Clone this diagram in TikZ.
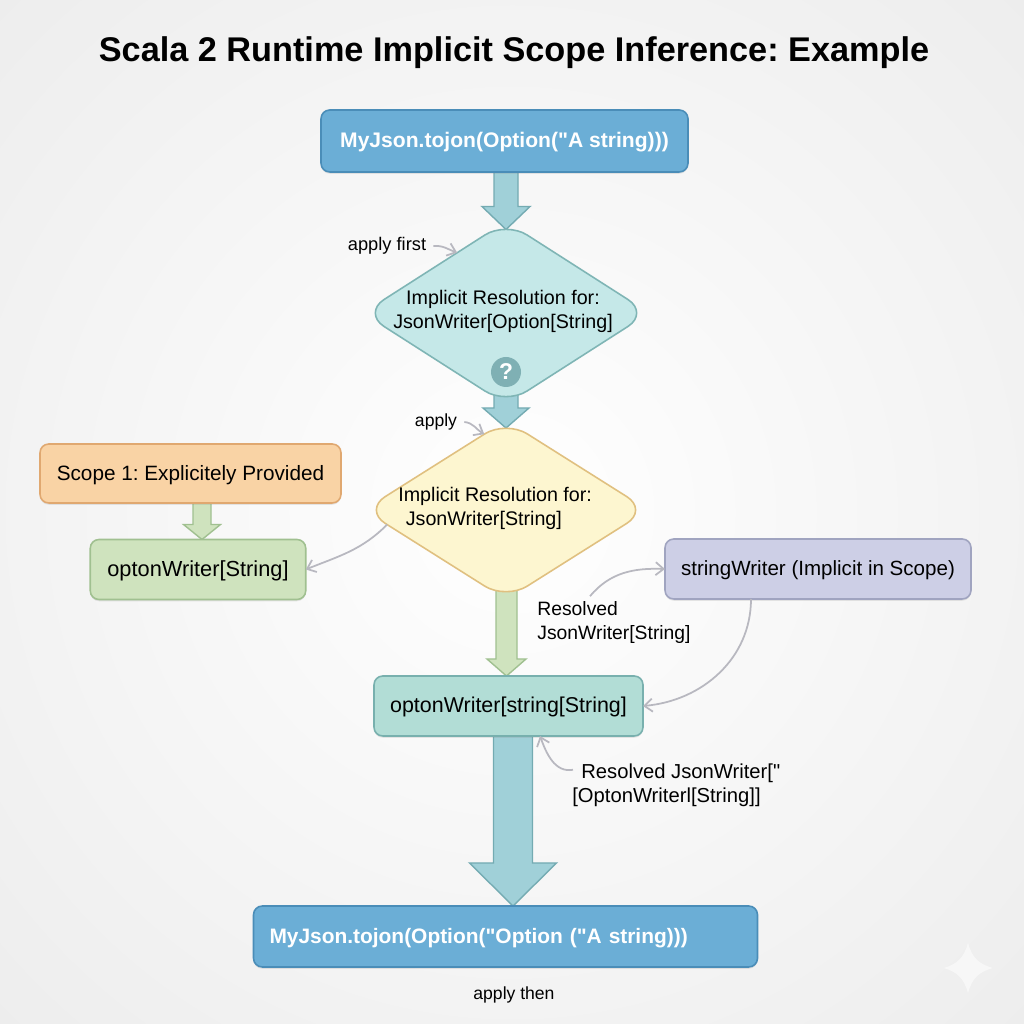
\documentclass[tikz,border=0pt]{standalone}
\usepackage{fontspec}
\setmainfont[Ligatures=TeXOff]{Liberation Sans}
\frenchspacing
\usetikzlibrary{arrows.meta,positioning,shapes.geometric,calc,shadows,backgrounds}
\definecolor{BlueFill}{HTML}{6BAED6}
\definecolor{BlueLine}{HTML}{4A8DB8}
\definecolor{TealFill}{HTML}{C5E8E8}
\definecolor{TealLine}{HTML}{7FB5B5}
\definecolor{FlowFill}{HTML}{A0D0D8}
\definecolor{FlowLine}{HTML}{74ABB2}
\definecolor{CreamFill}{HTML}{FDF6D0}
\definecolor{CreamLine}{HTML}{E0C080}
\definecolor{PeachFill}{HTML}{F9D3A5}
\definecolor{PeachLine}{HTML}{E0A870}
\definecolor{GreenFill}{HTML}{CFE3BE}
\definecolor{GreenLine}{HTML}{A0C090}
\definecolor{MintFill}{HTML}{B2DDD6}
\definecolor{MintLine}{HTML}{78B0AE}
\definecolor{LilacFill}{HTML}{CDCFE6}
\definecolor{LilacLine}{HTML}{A0A4C0}
\definecolor{NoteGray}{HTML}{B8B8C0}
\definecolor{BadgeTeal}{HTML}{7FB0B4}
\newcommand{\sized}[1]{\fontsize{#1}{13.6}\selectfont}
\tikzset{
  flow box/.style={rectangle,rounded corners=5pt,line width=0.9pt,outer sep=0pt,align=center,
    text height=10pt,text depth=2.4pt,
    drop shadow={shadow xshift=0pt,shadow yshift=-1pt,opacity=.18}},
  call box/.style={flow box,draw=BlueLine,fill=BlueFill,text=white,font=\sized{12}\bfseries},
  check node/.style={diamond,rounded corners=0.5cm,line width=0.9pt,outer sep=0pt,inner sep=0pt},
  note text/.style={inner sep=0pt,align=left},
  note arrow/.style={-{Straight Barb[length=1.6mm,width=2.6mm]},draw=NoteGray,line width=1pt},
  flow arrow/.style n args={3}{line width=0.8pt,to path={let \p1=(\tikztostart),\p2=(\tikztotarget) in
    (\x2-#1,\y1) -- (\x2-#1,\y2+#3) -- (\x2-#2,\y2+#3) -- (\x2,\y2) -- (\x2+#2,\y2+#3) -- (\x2+#1,\y2+#3) -- (\x2+#1,\y1) -- cycle}}
}
\begin{document}
\begin{tikzpicture}
  \useasboundingbox (0,0) rectangle (20.48,20.48);
  \begin{scope}[on background layer]
    \clip (0,0) rectangle (20.48,20.48);
    \shade[inner color=white,outer color=black!7] (-4.24,-4.24) rectangle (24.72,24.72);
  \end{scope}
  \node[font=\fontsize{19.5}{22}\selectfont\bfseries] (title) at (10.28,19.42) {Scala 2 Runtime Implicit Scope Inference: Example};
  % main column
  \node[call box,minimum width=7.34cm,minimum height=1.24cm] (start) at (10.09,17.66) {MyJson.tojon(Option("A string)))};
  \node[check node,draw=TealLine,fill=TealFill,minimum width=5.72cm,minimum height=3.66cm] (check1) at (10.12,14.22) {};
  \node[font=\sized{11.2},align=center] (check1text) at (10.06,14.26) {Implicit Resolution for:\\JsonWriter[Option[String]};
  \node[circle,fill=BadgeTeal,text=white,inner sep=0pt,minimum size=0.6cm,font=\fontsize{13}{13}\selectfont\bfseries] (badge) at (10.12,13.04) {?};
  \node[check node,draw=CreamLine,fill=CreamFill,minimum width=5.68cm,minimum height=3.58cm] (check2) at (10.12,10.28) {};
  \node[font=\sized{11.2},align=left,anchor=west,inner sep=0pt] (check2text) at (7.96,10.32) {Implicit Resolution for:\\\hspace*{0.15cm}JsonWriter[String]};
  \node[flow box,font=\sized{12.2},draw=MintLine,fill=MintFill,minimum width=5.38cm,minimum height=1.2cm] (combined) at (10.17,6.36) {optonWriter[string[String]};
  \node[call box,font=\sized{11.9}\bfseries,minimum width=10.08cm,minimum height=1.22cm,text width=9.44cm,align=left] (finish) at (10.11,1.75) {MyJson.tojon(Option("Option ("A string)))};
  % side boxes
  \node[flow box,font=\sized{11.8},draw=PeachLine,fill=PeachFill,minimum width=6.02cm,minimum height=1.18cm] (scope1) at (3.81,11.01) {Scope 1: Explicitely Provided};
  \node[flow box,font=\sized{12.4},draw=GreenLine,fill=GreenFill,minimum width=4.31cm,minimum height=1.2cm] (optwriter) at (3.96,9.09) {optonWriter[String]};
  \node[flow box,font=\sized{11.7},draw=LilacLine,fill=LilacFill,minimum width=6.12cm,minimum height=1.2cm] (strwriter) at (16.36,9.10) {stringWriter (Implicit in Scope)};
  % labels
  \node[note text,font=\sized{10.4}] (applyfirst) at (7.74,15.56) {apply first};
  \node[note text,font=\sized{10}] (applynext) at (8.72,12.04) {apply};
  \node[note text,font=\sized{11},anchor=west] (resolved1) at (10.74,8.03) {Resolved\\JsonWriter[String]};
  \node[note text,font=\sized{11.5},anchor=west] (resolved2) at (11.44,4.77) {\hspace*{0.18cm}Resolved JsonWriter["\\{}[OptonWriterl[String]]};
  \node[note text,font=\sized{10}] (applythen) at (10.28,0.58) {apply then};
  % block arrows sit behind the boxes
  \coordinate (optwritertip) at ($(optwriter.north)+(0.08,0)$);
  \coordinate (combinedtip) at ($(combined.north)+(-0.04,0)$);
  \coordinate (finishtip) at ($(finish.north)+(0.15,0)$);
  \begin{scope}[on background layer]
    \draw[flow arrow={0.24cm}{0.48cm}{0.46cm},draw=FlowLine,fill=FlowFill] (start.south) to ($(check1.north)+(0,-0.16)$);
    \draw[flow arrow={0.24cm}{0.46cm}{0.40cm},draw=FlowLine,fill=FlowFill] (check1.center) to ($(check2.north)+(0,-0.15)$);
    \draw[flow arrow={0.18cm}{0.37cm}{0.30cm},draw=GreenLine,fill=GreenFill] (scope1.south) to (optwritertip);
    \draw[flow arrow={0.21cm}{0.39cm}{0.34cm},draw=GreenLine,fill=GreenFill] (check2.center) to (combinedtip);
    \draw[flow arrow={0.39cm}{0.87cm}{0.86cm},draw=FlowLine,fill=FlowFill] (combined.south) to (finishtip);
  \end{scope}
  % thin curved arrows
  \draw[note arrow] (applyfirst.east) ++(0.14,0) to[out=5,in=160] (check1.129);
  \draw[note arrow] (applynext.east) ++(0.14,0) to[out=-5,in=150] (check2.106);
  \draw[note arrow] (check2.187) to[out=225,in=22] (optwriter.east);
  \draw[note arrow] ($(resolved1.north west)+(1.06,0.10)$) to[out=50,in=178] (strwriter.west);
  \draw[note arrow] ($(strwriter.south)+(-1.34,0)$) to[out=-90,in=5] (combined.east);
  \draw[note arrow] ($(resolved2.north west)+(0.02,-0.12)$) to[out=190,in=-70] ($(combined.south)+(0.63,0)$);
  % mark in the lower right corner
  \fill[white,opacity=.55] (19.36,1.62) .. controls (19.44,1.32) and (19.58,1.20) .. (19.85,1.12)
    .. controls (19.58,1.04) and (19.44,0.92) .. (19.36,0.62)
    .. controls (19.28,0.92) and (19.14,1.04) .. (18.88,1.12)
    .. controls (19.14,1.20) and (19.28,1.32) .. cycle;
\end{tikzpicture}
\end{document}
